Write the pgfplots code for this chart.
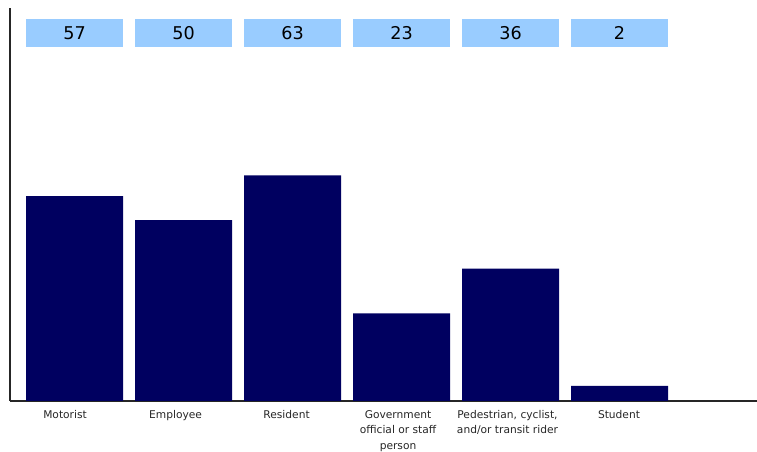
\documentclass[border=0pt]{standalone}
\usepackage{pgfplots}
\pgfplotsset{compat=1.18}
\usepackage{fontspec}
\setmainfont{DejaVu Sans}
\definecolor{barnavy}{HTML}{000060}
\definecolor{boxblue}{HTML}{99CCFF}
\begin{document}
\begin{tikzpicture}
\useasboundingbox (-7.5pt,-38.25pt) rectangle (560.25pt,300.75pt);
\begin{axis}[
  at={(0,0)}, anchor=south west,
  scale only axis,
  width=560.25pt, height=294.75pt,
  xmin=-0.592, xmax=6.261,
  ymin=0, ymax=113.9,
  axis lines*=left,
  axis line style={line width=1.1pt, black!85},
  ytick=\empty,
  xtick={-0.087,0.927,1.945,2.968,3.972,4.995},
  xticklabels={Motorist, Employee, Resident, {Government\\official or staff\\person}, {Pedestrian, cyclist,\\and/or transit rider}, Student},
  major tick length=0pt,
  xticklabel style={align=center, font=\fontsize{8}{11.6}\selectfont, text=black!85, yshift=-3.5pt},
  clip=false,
]
\addplot[ybar, bar width=0.89, fill=barnavy, draw=none, y filter/.expression={y+2.4}] table[x=x, y=v] {
x v
0 57
1 50
2 63
3 23
4 36
5 2
};
\addplot[draw=none, mark=none, nodes near coords, point meta=explicit symbolic,
  every node near coord/.append style={anchor=center, fill=boxblue, minimum width=72.75pt, minimum height=21pt, inner sep=0pt, font=\fontsize{13.2}{15}\selectfont, text=black}]
  table[x=x, y=y, meta=v] {
x y v
0 106.7 57
1 106.7 50
2 106.7 63
3 106.7 23
4 106.7 36
5 106.7 2
};
\end{axis}
\end{tikzpicture}
\end{document}
